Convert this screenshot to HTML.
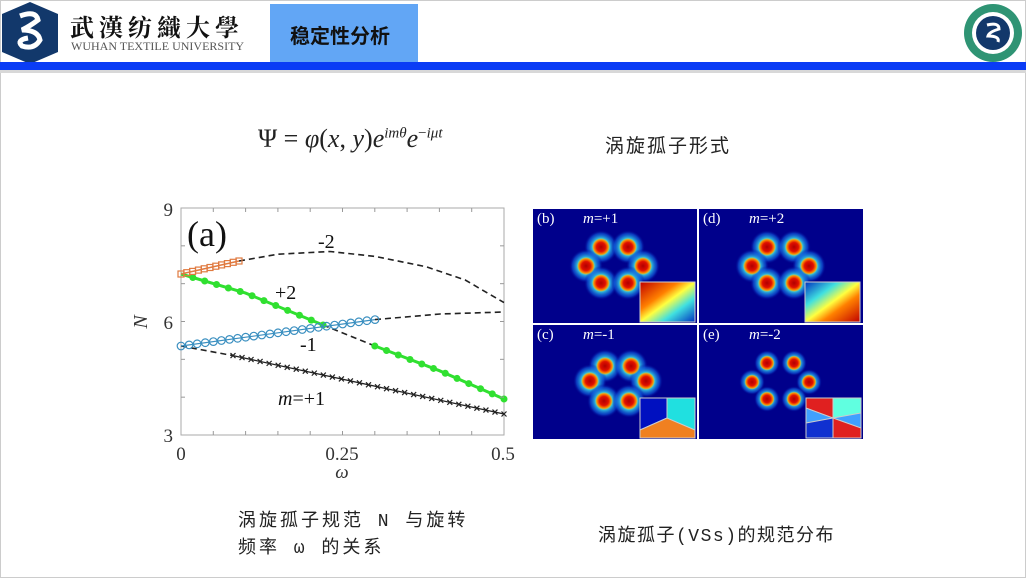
<!DOCTYPE html>
<html><head><meta charset="utf-8"><style>
html,body{margin:0;padding:0}
body{width:1026px;height:578px;position:relative;background:#fff;overflow:hidden;font-family:"Liberation Serif","Noto Serif CJK SC",serif}
.t{position:absolute;white-space:nowrap}
</style></head><body>
<div style="position:absolute;left:0;top:0;width:1026px;height:578px;box-sizing:border-box;border:1px solid #ccc"></div>
<svg style="position:absolute;left:0;top:0" width="1026" height="80">
<polygon points="30,2 58,14 58,52 30,64 2,52 2,14" fill="#12386b"/>
<path d="M20 16 Q36 10 38 20 Q30 26 22 30 Q38 30 40 40 Q34 50 22 46 Q16 40 28 38" stroke="#fff" stroke-width="5" fill="none"/>
<rect x="270" y="4" width="148" height="58" fill="#62a6f5"/>
<rect x="0" y="62" width="1026" height="8" fill="#0a3cf5"/>
<rect x="0" y="70" width="1026" height="3" fill="#d8d8d8"/>
<circle cx="993" cy="33" r="29" fill="#2f9474"/>
<circle cx="993" cy="33" r="21" fill="#fff"/>
<circle cx="993" cy="33" r="17" fill="#12386b"/>
<path d="M987 25 Q999 22 999 29 Q989 32 988 36 Q1000 36 998 42" stroke="#fff" stroke-width="3" fill="none"/>
</svg>
<div class="t" style="left:70px;top:12px;font-size:24px;color:#111;font-family:'Noto Serif CJK SC',serif;letter-spacing:5px;line-height:28px;font-weight:bold">武漢纺織大學</div>
<div class="t" style="left:71px;top:39px;font-size:12px;color:#555">WUHAN TEXTILE UNIVERSITY</div>
<div class="t" style="left:290px;top:20px;font-size:20px;font-weight:bold;color:#111;font-family:'Liberation Sans','Noto Sans CJK SC',sans-serif">稳定性分析</div>
<div class="t" style="left:258px;top:124px;font-size:26px;color:#222">Ψ = <i>φ</i>(<i>x</i>, <i>y</i>)<i>e</i><sup style="font-size:15px"><i>imθ</i></sup><i>e</i><sup style="font-size:15px">−<i>iμt</i></sup></div>
<div class="t" style="left:605px;top:131px;font-size:19px;letter-spacing:2px;color:#222;font-family:'Noto Sans CJK SC',sans-serif">涡旋孤子形式</div>
<div class="t" style="left:238px;top:509px;font-size:18px;letter-spacing:3px;color:#222;font-family:'Liberation Mono','Noto Sans CJK SC',monospace;line-height:27px">涡旋孤子规范 N 与旋转<br>频率 ω 的关系</div>
<div class="t" style="left:598px;top:521px;font-size:18px;letter-spacing:1.5px;color:#222;font-family:'Liberation Mono','Noto Sans CJK SC',monospace">涡旋孤子(VSs)的规范分布</div>
<svg id="ch" style="position:absolute;left:0;top:0" width="1026" height="578" font-family="Liberation Serif,serif">
<rect x="181" y="208" width="323" height="227" fill="none" stroke="#aaa" stroke-width="1"/>
<g font-size="19" fill="#333" text-anchor="end">
<text x="173" y="216">9</text><text x="173" y="329">6</text><text x="173" y="442">3</text></g>
<g font-size="19" fill="#333" text-anchor="middle">
<text x="181" y="460">0</text><text x="342" y="460">0.25</text><text x="503" y="460">0.5</text>
<text x="342" y="478" font-style="italic">ω</text></g>
<text x="147" y="322" font-size="20" font-style="italic" fill="#333" transform="rotate(-90 147 322)" text-anchor="middle">N</text>
<text x="187" y="246" font-size="36" fill="#111">(a)</text>
<text x="318" y="248" font-size="20" fill="#111">-2</text>
<text x="275" y="299" font-size="20" fill="#111">+2</text>
<text x="300" y="351" font-size="20" fill="#111">-1</text>
<text x="278" y="405" font-size="20" fill="#111"><tspan font-style="italic">m</tspan>=+1</text>
<g fill="none" stroke="#222" stroke-width="1.6" stroke-dasharray="6,4">
<polyline points="239,261 278,254.2 330,251.5 375,256.4 426,266.7 465,279.9 504,302.6"/>
<polyline points="323,325 375,346"/>
<polyline points="375,319.6 440,314 504,312"/>
<polyline points="181,346 233,355.6"/>
</g>
<g id="mk"></g>
</svg>
<svg style="position:absolute;left:533px;top:208px" width="331" height="232">
<defs>
<radialGradient id="hl"><stop offset="0" stop-color="#40e0d0"/><stop offset="0.5" stop-color="#30c0e0"/><stop offset="0.8" stop-color="#1060e0" stop-opacity="0.6"/><stop offset="1" stop-color="#00008b" stop-opacity="0"/></radialGradient>
<radialGradient id="cr"><stop offset="0" stop-color="#b00000"/><stop offset="0.5" stop-color="#e01000"/><stop offset="0.8" stop-color="#ff9000"/><stop offset="1" stop-color="#ffe000" stop-opacity="0"/></radialGradient>
<linearGradient id="p1" x1="0" y1="0" x2="1" y2="1"><stop offset="0" stop-color="#c00000"/><stop offset="0.35" stop-color="#ff8000"/><stop offset="0.5" stop-color="#ffff40"/><stop offset="0.7" stop-color="#40e0e0"/><stop offset="1" stop-color="#0030c0"/></linearGradient>
</defs>
<rect x="0" y="0" width="331" height="232" fill="#fff"/>
<rect x="0" y="1" width="164" height="114" fill="#00008b"/>
<rect x="166" y="1" width="164" height="114" fill="#00008b"/>
<rect x="0" y="117" width="164" height="114" fill="#00008b"/>
<rect x="166" y="117" width="164" height="114" fill="#00008b"/>
<g id="halo"></g>
<g id="blobs"></g>
<rect x="107" y="74" width="55" height="40" fill="url(#p1)" stroke="#ccc"/>
<rect x="273" y="74" width="55" height="40" fill="url(#p1)" stroke="#ccc" transform="rotate(180 300 94)"/>
<g stroke="#ccc"><rect x="107" y="190" width="55" height="40" fill="#20e0e0"/><polygon points="107,190 134,190 134,210 107,222" fill="#0010c0"/><polygon points="107,222 134,210 162,222 162,230 107,230" fill="#f08020"/></g>
<g stroke="#ccc"><rect x="273" y="190" width="55" height="40" fill="#40a0ff"/><polygon points="273,190 300,190 300,210 273,200" fill="#e02020"/><polygon points="300,210 328,220 328,230 300,230" fill="#e02020"/><polygon points="273,215 300,210 300,230 273,230" fill="#1030d0"/><polygon points="300,190 328,190 328,205 300,210" fill="#60ffe0"/></g>
<g font-size="15" fill="#fff"><text x="4" y="15">(b)</text><text x="50" y="15"><tspan font-style="italic">m</tspan>=+1</text>
<text x="170" y="15">(d)</text><text x="216" y="15"><tspan font-style="italic">m</tspan>=+2</text>
<text x="4" y="131">(c)</text><text x="50" y="131"><tspan font-style="italic">m</tspan>=-1</text>
<text x="170" y="131">(e)</text><text x="216" y="131"><tspan font-style="italic">m</tspan>=-2</text></g>
</svg>
<script>
(function(){
var ns="http://www.w3.org/2000/svg",mk=document.getElementById("mk");
function lin(a,b,t){return a+(b-a)*t}
function el(t,a,p){var e=document.createElementNS(ns,t);for(var k in a)e.setAttribute(k,a[k]);(p||mk).appendChild(e);return e}
el("polyline",{points:"181,274 245.6,293.1 323,325",fill:"none",stroke:"#30e030","stroke-width":3});
el("polyline",{points:"375,346 439.4,370.7 504,399",fill:"none",stroke:"#30e030","stroke-width":3});
for(var i=1;i<=12;i++){var w=0.22*i/12,x=181+646*w,y=w<0.1?lin(274,293.1,w/0.1):lin(293.1,325,(w-0.1)/0.12);el("circle",{cx:x,cy:y,r:3.5,fill:"#30e030"})}
for(var i=0;i<=11;i++){var w=0.3+0.2*i/11,x=181+646*w,y=w<0.4?lin(346,370.7,(w-0.3)/0.1):lin(370.7,399,(w-0.4)/0.1);el("circle",{cx:x,cy:y,r:3.5,fill:"#30e030"})}
el("line",{x1:233,y1:355.6,x2:504,y2:414,stroke:"#222","stroke-width":1.3});
for(var i=0;i<=30;i++){var t=i/30,x=lin(233,504,t),y=lin(355.6,414,t);el("path",{d:"M"+(x-2.5)+" "+(y-2.5)+"l5 5m0 -5l-5 5",stroke:"#222","stroke-width":1.2})}
el("line",{x1:181,y1:346,x2:375,y2:319.6,stroke:"#3a8fc0","stroke-width":1.2});
for(var i=0;i<=24;i++){var t=i/24;el("circle",{cx:lin(181,375,t),cy:lin(346,319.6,t),r:3.8,fill:"none",stroke:"#3a8fc0","stroke-width":1.2})}
el("line",{x1:181,y1:274,x2:239,y2:261,stroke:"#e07a40","stroke-width":1.5});
for(var i=0;i<=10;i++){var t=i/10,x=lin(181,239,t),y=lin(274,261,t);el("rect",{x:x-3,y:y-3,width:6,height:6,fill:"none",stroke:"#e07a40","stroke-width":1.2})}
for(var i=1;i<10;i++){var x=181+323*i/10;el("line",{x1:x,y1:435,x2:x,y2:431,stroke:"#999"});el("line",{x1:x,y1:208,x2:x,y2:212,stroke:"#999"})}
for(var i=1;i<6;i++){var y=208+227*i/6;el("line",{x1:181,y1:y,x2:185,y2:y,stroke:"#999"});el("line",{x1:504,y1:y,x2:500,y2:y,stroke:"#999"})}
var hg=document.getElementById("halo"),bg=document.getElementById("blobs");
function B(x,y,h,c){el("circle",{cx:x,cy:y,r:h,fill:"url(#hl)"},hg);el("circle",{cx:x,cy:y,r:c,fill:"url(#cr)"},bg)}
var hex=[[68,39],[95,39],[53,58],[110,58],[68,75],[95,75]];
hex.forEach(function(p){B(p[0],p[1],17,9);B(p[0]+166,p[1],17,9);B(p[0]+166,p[1]+116,13,7.5)});
[[72,42],[57,57],[98,42],[113,57],[71,77],[96,77]].forEach(function(p){B(p[0],p[1]+116,17,9)});
})();
</script>
</body></html>
